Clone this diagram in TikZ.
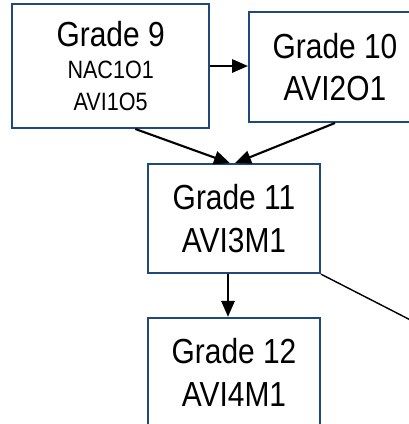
\documentclass[tikz,border=0pt]{standalone}
\usepackage{fontspec}
\setmainfont{Liberation Sans}[FakeStretch=0.86]
\usetikzlibrary{calc}
\usetikzlibrary{arrows.meta}
\definecolor{boxblue}{RGB}{31,73,125}
\tikzset{
    grade/.style={draw=boxblue, line width=1.7pt, fill=white, align=center,
        inner sep=0pt, font=\fontsize{29.7}{36.6}\selectfont},
    link/.style={line width=1.8pt, -{Triangle[length=0.48cm,width=0.40cm]}},
}

\begin{document}
\begin{tikzpicture}
            \useasboundingbox (0, 0) rectangle (12.27, -12.72);
            \clip (0, 0) rectangle (12.27, -12.72);
            \node[grade, minimum width=5.91cm, minimum height=3.72cm] (G9) at (3.32, -1.98)
                {Grade 9\\[-9pt] {\fontsize{21.4}{27}\selectfont NAC1O1}\\[-9pt] {\fontsize{21.4}{27}\selectfont AVI1O5}};
            \node[grade, minimum width=5.16cm, minimum height=3.30cm] (G10) at (10.05, -2.01) {Grade 10\\AVI2O1};
            \node[grade, minimum width=5.16cm, minimum height=3.27cm] (G11) at (7.02, -6.56) {Grade 11\\AVI3M1};
            \node[grade, minimum width=5.16cm, minimum height=3.27cm] (G12) at (7.02, -11.17) {Grade 12\\AVI4M1};
            \coordinate (OUT) at (12.9, -9.9);
            \draw[link] (G9.east) -- (G9.east -| G10.west);
            \draw[link] ($(G9.south) + (0.74, 0)$) -- ($(G11.north) + (-0.12, 0)$);
            \draw[link] (G10.south) -- ($(G11.north) + (0.03, 0)$);
            \draw[link] ($(G11.south) + (-0.18, 0)$) -- ($(G12.north) + (-0.18, 0)$);
            \draw[line width=1.2pt] (G11.south east) -- (OUT);
        \end{tikzpicture}
\end{document}
